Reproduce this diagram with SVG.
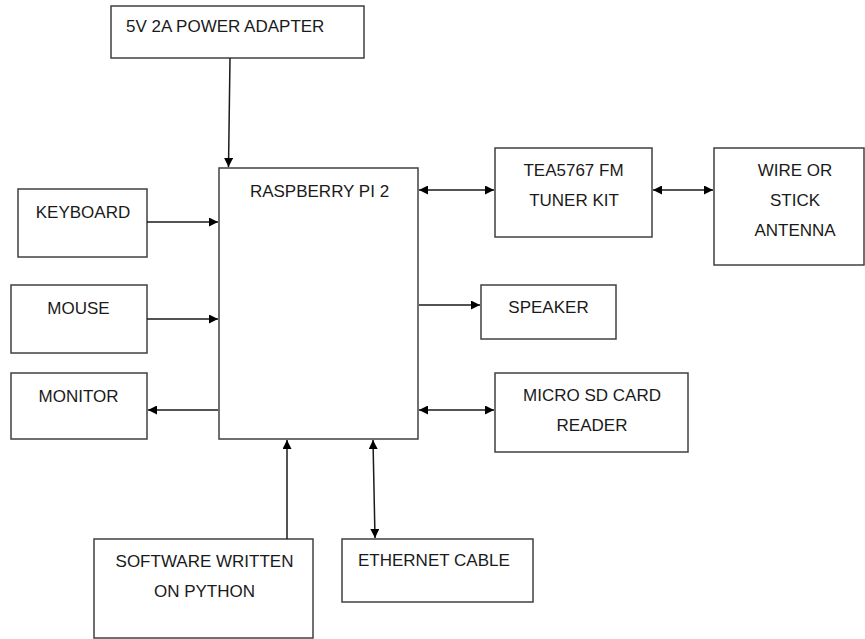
<svg xmlns="http://www.w3.org/2000/svg" width="865" height="639" viewBox="0 0 865 639">
<defs>
<marker id="ah" viewBox="0 0 10 10" refX="10" refY="5" markerWidth="10" markerHeight="9" markerUnits="userSpaceOnUse" orient="auto-start-reverse">
<path d="M0,0 L10,5 L0,10 Z" fill="#000"/>
</marker>
</defs>
<style>
.box{fill:#fff;stroke:#404040;stroke-width:1.5}
.t{font-family:"Liberation Sans",Arial,sans-serif;font-size:17px;fill:#1a1a1a}
.m{text-anchor:middle}
.c{fill:none;stroke:#1a1a1a;stroke-width:1.5}
</style>
<rect width="865" height="639" fill="#fff"/>
<g id="power"><rect class="box" x="111" y="6" width="253" height="52"/><text class="t" x="126" y="32">5V 2A POWER ADAPTER</text></g>
<g id="rpi"><rect class="box" x="219" y="168" width="199" height="271"/><text class="t m" x="319.5" y="197">RASPBERRY PI 2</text></g>
<g id="tea"><rect class="box" x="495" y="148" width="157" height="89"/><text class="t m" x="573.5" y="176">TEA5767 FM</text><text class="t m" x="574" y="206">TUNER KIT</text></g>
<g id="antenna"><rect class="box" x="714" y="148" width="150" height="117"/><text class="t m" x="795" y="176">WIRE OR</text><text class="t m" x="795" y="206">STICK</text><text class="t m" x="795" y="236">ANTENNA</text></g>
<g id="keyboard"><rect class="box" x="18" y="189" width="129" height="68"/><text class="t m" x="83" y="218">KEYBOARD</text></g>
<g id="mouse"><rect class="box" x="11" y="285" width="136" height="68"/><text class="t m" x="78.5" y="314">MOUSE</text></g>
<g id="monitor"><rect class="box" x="11" y="373" width="136" height="66"/><text class="t m" x="78.5" y="402">MONITOR</text></g>
<g id="speaker"><rect class="box" x="481" y="285" width="135" height="54"/><text class="t m" x="548.5" y="313">SPEAKER</text></g>
<g id="sdcard"><rect class="box" x="495" y="373" width="193" height="79"/><text class="t m" x="592" y="401">MICRO SD CARD</text><text class="t m" x="592" y="431">READER</text></g>
<g id="software"><rect class="box" x="94" y="539" width="219" height="99"/><text class="t m" x="204.5" y="567">SOFTWARE WRITTEN</text><text class="t m" x="204.5" y="597">ON PYTHON</text></g>
<g id="ethernet"><rect class="box" x="342" y="539" width="191" height="63"/><text class="t" x="358" y="566">ETHERNET CABLE</text></g>
<g id="connectors">
<line class="c" x1="230" y1="58" x2="228.5" y2="167" marker-end="url(#ah)"/>
<line class="c" x1="419" y1="190" x2="494" y2="190" marker-start="url(#ah)" marker-end="url(#ah)"/>
<line class="c" x1="653" y1="190" x2="713" y2="190" marker-start="url(#ah)" marker-end="url(#ah)"/>
<line class="c" x1="147" y1="222" x2="218" y2="222" marker-end="url(#ah)"/>
<line class="c" x1="147" y1="319" x2="218" y2="319" marker-end="url(#ah)"/>
<line class="c" x1="218" y1="410" x2="148" y2="410" marker-end="url(#ah)"/>
<line class="c" x1="419" y1="305" x2="480" y2="305" marker-end="url(#ah)"/>
<line class="c" x1="419" y1="410" x2="494" y2="410" marker-start="url(#ah)" marker-end="url(#ah)"/>
<line class="c" x1="287" y1="539" x2="287" y2="440" marker-end="url(#ah)"/>
<line class="c" x1="373" y1="440" x2="375" y2="538" marker-start="url(#ah)" marker-end="url(#ah)"/>
</g>
</svg>
